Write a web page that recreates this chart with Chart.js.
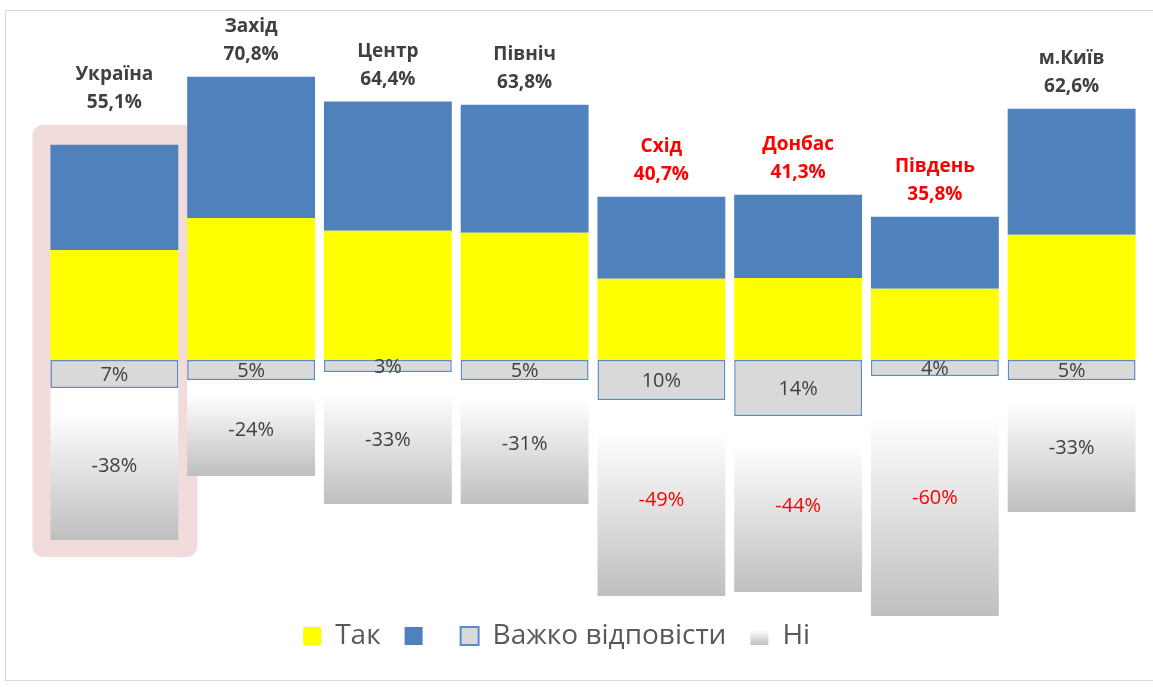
<!DOCTYPE html>
<html>
<head>
<meta charset="utf-8">
<script src="https://cdn.jsdelivr.net/npm/chart.js@4"></script>
<style>
  html, body { margin: 0; padding: 0; background: #ffffff; }
  #wrap { position: relative; width: 1153px; height: 687px; }
  #frame { position: absolute; left: 5px; top: 10px; width: 1150px; height: 671px;
           border: 1.5px solid #d9d9d9; box-sizing: border-box; pointer-events: none; }
  canvas { position: absolute; left: 0; top: 0; }
</style>
</head>
<body>
<div id="wrap">
  <div id="frame"></div>
  <canvas id="pollChart" width="1153" height="687"></canvas>
</div>
<script>
// regions and values
const regions = ['Україна', 'Захід', 'Центр', 'Північ', 'Схід', 'Донбас', 'Південь', 'м.Київ'];
const totals = [55.1, 70.8, 64.4, 63.8, 40.7, 41.3, 35.8, 62.6];
const yesValues = [27.5, 35.5, 32.3, 31.8, 20.3, 20.5, 17.8, 31.3];
const yesTopValues = [26.3, 35.3, 32.3, 32.0, 20.5, 20.8, 18.0, 31.5];
const hardToSay = [7, 5, 3, 5, 10, 14, 4, 5];
const noValues = [38, 24, 33, 31, 49, 44, 60, 33];
const seriesNames = ['Так', '', 'Важко відповісти', 'Ні'];

// regions whose labels are shown in red
const redRegions = ['Схід', 'Донбас', 'Південь'];

const FONT = "'Open Sans', 'DejaVu Sans', sans-serif";
const TEXT = '#404040';
const RED = '#ff0000';

function fmt(v) {
    return v.toFixed(1).replace('.', ',') + '%';
}

function labelColor(i) {
    return redRegions.includes(regions[i]) ? RED : TEXT;
}

function greyFade(ctx, top, bottom) {
    const g = ctx.createLinearGradient(0, top, 0, bottom);
    g.addColorStop(0, '#ffffff');
    g.addColorStop(0.16, '#ffffff');
    g.addColorStop(1, '#bfbfbf');
    return g;
}

// white -> grey gradient for the "Ні" part of each bar
function noGradient(context) {
    const chart = context.chart;
    const { ctx, chartArea, scales } = chart;
    if (!chartArea || context.dataIndex === undefined) return '#d0d0d0';
    const i = context.dataIndex;
    const top = scales.y.getPixelForValue(-hardToSay[i]);
    const bottom = scales.y.getPixelForValue(-hardToSay[i] - noValues[i]);
    return greyFade(ctx, top, bottom);
}

// pink rounded box behind the first (Україна) bar
const highlightPlugin = {
    id: 'highlight',
    beforeDatasetsDraw(chart) {
        const top = chart.getDatasetMeta(1).data[0];
        const bottom = chart.getDatasetMeta(3).data[0];
        if (!top || !bottom) return;
        const ctx = chart.ctx;
        const x0 = top.x - top.width / 2 - 18;
        const x1 = top.x + top.width / 2 + 19;
        const y0 = top.y - 20;
        const y1 = bottom.y + 17;
        ctx.save();
        ctx.fillStyle = '#f2dcdb';
        ctx.beginPath();
        ctx.roundRect(x0, y0, x1 - x0, y1 - y0, 11);
        ctx.fill();
        ctx.restore();
    }
};

// region names, totals and in-bar percentages
const labelsPlugin = {
    id: 'barLabels',
    afterDatasetsDraw(chart) {
        const ctx = chart.ctx;
        const topMeta = chart.getDatasetMeta(1);
        const hardMeta = chart.getDatasetMeta(2);
        const noMeta = chart.getDatasetMeta(3);
        ctx.save();
        ctx.textAlign = 'center';
        ctx.textBaseline = 'middle';
        regions.forEach((name, i) => {
            const bar = topMeta.data[i];
            const ref = i === 0 ? bar.y - 20 : bar.y;
            ctx.fillStyle = labelColor(i);
            ctx.font = 'bold 19px ' + FONT;
            ctx.fillText(name, bar.x, ref - 50);
            ctx.fillText(fmt(totals[i]), bar.x, ref - 22);

            const h = hardMeta.data[i];
            ctx.font = '20px ' + FONT;
            ctx.fillStyle = TEXT;
            ctx.fillText(hardToSay[i] + '%', h.x, (h.y + h.base) / 2 + 1);

            const n = noMeta.data[i];
            ctx.fillStyle = labelColor(i);
            ctx.fillText('-' + noValues[i] + '%', n.x, (n.y + n.base) / 2 + 2);
        });
        ctx.restore();
    },
    // the "Ні" legend swatch gets the same fade as its bars
    afterDraw(chart) {
        const legend = chart.legend;
        if (!legend || !legend.legendHitBoxes) return;
        const hb = legend.legendHitBoxes[3];
        if (!hb) return;
        const size = 18;
        const y = hb.top + (hb.height - size) / 2;
        const ctx = chart.ctx;
        ctx.save();
        ctx.fillStyle = '#ffffff';
        ctx.fillRect(hb.left - 1, y - 1, size + 2, size + 2);
        ctx.fillStyle = greyFade(ctx, y, y + size);
        ctx.fillRect(hb.left, y, size, size);
        ctx.restore();
    }
};

new Chart(document.getElementById('pollChart'), {
    type: 'bar',
    data: {
        labels: regions,
        datasets: [
            { label: seriesNames[0], data: yesValues, backgroundColor: '#ffff00', borderWidth: 0, clip: false },
            { label: seriesNames[1], data: yesTopValues, backgroundColor: '#4f81bd', borderWidth: 0, clip: false },
            {
                label: seriesNames[2],
                data: hardToSay.map(v => -v),
                backgroundColor: '#d9d9d9',
                borderColor: '#5b8cc8',
                borderWidth: 1.5,
                borderSkipped: false,
                clip: false
            },
            {
                label: seriesNames[3],
                data: noValues.map(v => -v),
                backgroundColor: noGradient,
                borderWidth: 0,
                clip: false
            }
        ]
    },
    options: {
        responsive: false,
        animation: false,
        devicePixelRatio: 1,
        layout: { padding: { left: 46, right: 13, top: 40, bottom: 27 } },
        datasets: { bar: { categoryPercentage: 1.0, barPercentage: 0.935 } },
        plugins: {
            tooltip: { enabled: false },
            legend: {
                position: 'bottom',
                labels: {
                    boxWidth: 18,
                    boxHeight: 18,
                    padding: 24,
                    color: '#595959',
                    font: { family: FONT, size: 28 },
                    generateLabels(chart) {
                        const fills = ['#ffff00', '#4f81bd', '#d9d9d9', '#e6e6e6'];
                        const strokes = ['#ffff00', '#4f81bd', '#5b8cc8', '#e6e6e6'];
                        return chart.data.datasets.map((ds, i) => ({
                            // trailing blanks on the last item push the row left, as in the original
                            text: i === 3 ? ds.label + '\u00a0'.repeat(10) : ds.label,
                            fillStyle: fills[i],
                            strokeStyle: strokes[i],
                            lineWidth: i === 2 ? 2 : 0,
                            datasetIndex: i,
                            fontColor: '#595959'
                        }));
                    }
                }
            }
        },
        scales: {
            x: { stacked: true, display: false, grid: { display: false } },
            y: { stacked: true, display: false, min: -59.5, max: 80, grid: { display: false } }
        }
    },
    plugins: [highlightPlugin, labelsPlugin]
});
</script>
</body>
</html>
